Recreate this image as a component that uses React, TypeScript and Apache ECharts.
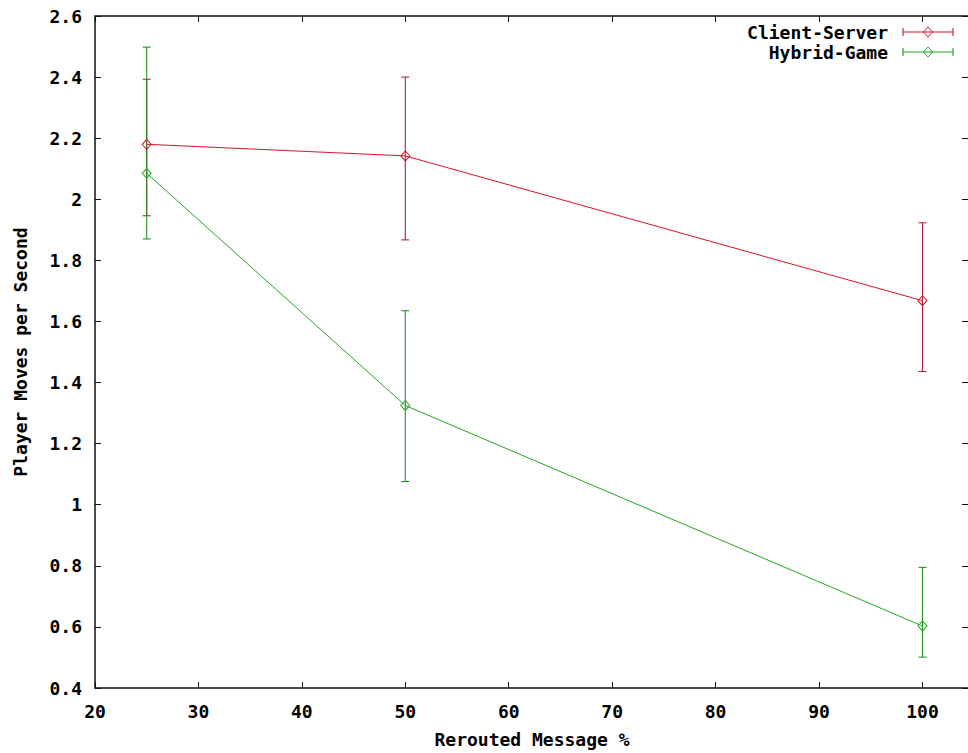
import React, { useEffect, useRef } from "react";
import * as echarts from "echarts";

const xValues = [25, 50, 100];
const csMean = [2.18, 2.142, 1.668];
const csLow = [1.946, 1.867, 1.436];
const csHigh = [2.393, 2.4, 1.923];
const hgMean = [2.085, 1.325, 0.603];
const hgLow = [1.87, 1.076, 0.501];
const hgHigh = [2.498, 1.635, 0.795];
const seriesNames = ["Client-Server", "Hybrid-Game"];

const RED = "#d8142a";
const RED_BAR = "#b0102a";
const GREEN = "#22a822";
const GREEN_BAR = "#138a13";
const FONT = "DejaVu Sans Mono";

function errorSeries(low: number[], high: number[], color: string) {
  return {
    type: "custom",
    xAxisIndex: 0,
    yAxisIndex: 0,
    silent: true,
    data: xValues.map((x, i) => [x, low[i], high[i]]),
    encode: { x: 0, y: [1, 2] },
    renderItem: (params: any, api: any) => {
      const x = api.value(0);
      const lo = api.coord([x, api.value(1)]);
      const hi = api.coord([x, api.value(2)]);
      const w = 4;
      const style = { stroke: color, lineWidth: 1 };
      return {
        type: "group",
        children: [
          { type: "line", shape: { x1: lo[0], y1: lo[1], x2: hi[0], y2: hi[1] }, style },
          { type: "line", shape: { x1: lo[0] - w, y1: lo[1], x2: lo[0] + w, y2: lo[1] }, style },
          { type: "line", shape: { x1: hi[0] - w, y1: hi[1], x2: hi[0] + w, y2: hi[1] }, style },
        ],
      };
    },
  };
}

function lineSeries(name: string, values: number[], color: string) {
  return {
    type: "line",
    name,
    xAxisIndex: 0,
    yAxisIndex: 0,
    data: xValues.map((x, i) => [x, values[i]]),
    symbol: "diamond",
    symbolSize: [9, 10],
    showSymbol: true,
    lineStyle: { color, width: 1 },
    itemStyle: { color: "rgba(255,255,255,0)", borderColor: color, borderWidth: 1 },
    z: 3,
  };
}

function legendRow(label: string, y: number, color: string, barColor: string) {
  const x1 = 903;
  const x2 = 953;
  const cx = 928;
  return [
    {
      type: "text",
      x: 888,
      y,
      style: {
        text: label,
        align: "right",
        verticalAlign: "middle",
        fontFamily: FONT,
        fontWeight: "bold",
        fontSize: 18,
        fill: "#000",
      },
    },
    { type: "line", shape: { x1, y1: y, x2, y2: y }, style: { stroke: color, lineWidth: 1 } },
    { type: "line", shape: { x1, y1: y - 4, x2: x1, y2: y + 4 }, style: { stroke: barColor, lineWidth: 1 } },
    { type: "line", shape: { x1: x2, y1: y - 4, x2, y2: y + 4 }, style: { stroke: barColor, lineWidth: 1 } },
    {
      type: "polygon",
      shape: { points: [[cx, y - 5], [cx + 4.5, y], [cx, y + 5], [cx - 4.5, y]] },
      style: { fill: "none", stroke: color, lineWidth: 1 },
    },
  ];
}

export default function App() {
  const ref = useRef<HTMLDivElement>(null);
  useEffect(() => {
    if (!ref.current) return;
    const chart = echarts.init(ref.current, undefined, { renderer: "svg" });
    const labelStyle = {
      fontFamily: FONT,
      fontWeight: "bold",
      fontSize: 18,
      color: "#000",
    };
    const xMin = 20;
    const xMax = 104.5;
    const yMin = 0.4;
    const yMax = 2.6;
    chart.setOption({
      animation: false,
      backgroundColor: "#fff",
      grid: {
        left: 95,
        top: 16,
        right: 1,
        bottom: 64,
        show: true,
        borderColor: "#111",
        borderWidth: 1.5,
        backgroundColor: "transparent",
      },
      xAxis: [
        {
          type: "value",
          min: xMin,
          max: xMax,
          interval: 10,
          name: "Rerouted Message %",
          nameLocation: "middle",
          nameGap: 42,
          nameTextStyle: labelStyle,
          axisLine: { show: false },
          axisTick: { inside: true, length: 6, lineStyle: { color: "#111" } },
          axisLabel: {
            ...labelStyle,
            margin: 14,
            showMaxLabel: false,
            formatter: (v: number) => (v > 100 ? "" : String(v)),
          },
          splitLine: { show: false },
        },
        {
          type: "value",
          position: "top",
          min: xMin,
          max: xMax,
          interval: 10,
          axisLine: { show: false },
          axisTick: { inside: true, length: 6, lineStyle: { color: "#111" } },
          axisLabel: { show: false },
          splitLine: { show: false },
        },
      ],
      yAxis: [
        {
          type: "value",
          min: yMin,
          max: yMax,
          interval: 0.2,
          name: "Player Moves per Second",
          nameLocation: "middle",
          nameGap: 66,
          nameTextStyle: labelStyle,
          axisLine: { show: false },
          axisTick: { inside: true, length: 6, lineStyle: { color: "#111" } },
          axisLabel: {
            ...labelStyle,
            margin: 13,
            formatter: (v: number) => String(+v.toFixed(1)),
          },
          splitLine: { show: false },
        },
        {
          type: "value",
          position: "right",
          min: yMin,
          max: yMax,
          interval: 0.2,
          axisLine: { show: false },
          axisTick: { inside: true, length: 7, lineStyle: { color: "#111" } },
          axisLabel: { show: false },
          splitLine: { show: false },
        },
      ],
      series: [
        lineSeries(seriesNames[0], csMean, RED),
        errorSeries(csLow, csHigh, RED_BAR),
        lineSeries(seriesNames[1], hgMean, GREEN),
        errorSeries(hgLow, hgHigh, GREEN_BAR),
      ],
      graphic: [
        ...legendRow(seriesNames[0], 32, RED, RED_BAR),
        ...legendRow(seriesNames[1], 52, GREEN, GREEN_BAR),
      ],
    });
    return () => chart.dispose();
  }, []);
  return (
    <div
      style={{
        position: "absolute",
        left: 0,
        top: 0,
        width: 968,
        height: 753,
        overflow: "hidden",
        background: "#fff",
      }}
    >
      <div ref={ref} style={{ width: 970, height: 753 }} />
    </div>
  );
}
